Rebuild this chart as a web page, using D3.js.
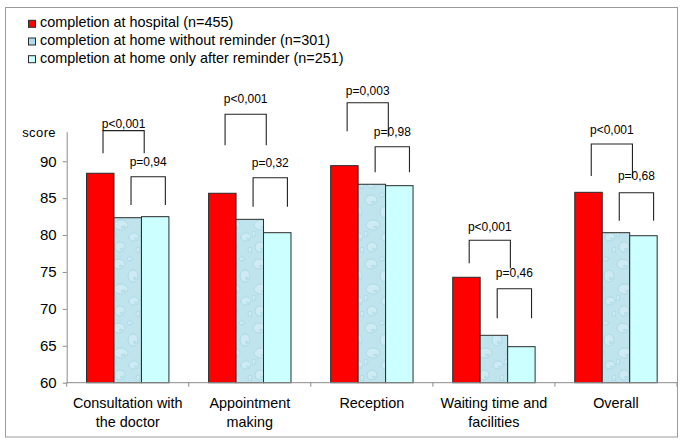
<!DOCTYPE html>
<html>
<head>
<meta charset="utf-8">
<script src="https://cdn.jsdelivr.net/npm/d3@7"></script>
<style>
  html, body { margin: 0; padding: 0; background: #fff; }
  svg { display: block; font-family: "Liberation Sans", Arial, sans-serif; }
</style>
</head>
<body>
<svg id="chart" width="685" height="445"></svg>
<script>
// ---- data ----
const categories = ["Consultation with\nthe doctor", "Appointment\nmaking", "Reception", "Waiting time and\nfacilities", "Overall"];
const seriesNames = ["completion at hospital (n=455)", "completion at home without reminder (n=301)", "completion at home only after reminder (n=251)"];
const hospital = [88.37, 85.66, 89.4, 74.28, 85.79];
const homeNoReminder = [82.35, 82.13, 86.88, 66.42, 80.32];
const homeAfterReminder = [82.49, 80.32, 86.69, 64.88, 79.91];
const yTicks = [60, 65, 70, 75, 80, 85, 90];
const yLabel = "score";
// p-value annotations: hospital vs home (1) and home without vs after reminder (2)
const pLabel1 = ["p<0,001", "p<0,001", "p=0,003", "p<0,001", "p<0,001"];
const pLabel2 = ["p=0,94", "p=0,32", "p=0,98", "p=0,46", "p=0,68"];
// bracket levels, in score units
const b1Top = [94.14, 96.37, 97.93, 79.29, 92.34];
const b1LegL = [91.08, 92.16, 94.06, 76.17, 88.0];
const b1LegR = [91.08, 92.16, 93.32, 75.5, 87.73];
const b1Text = [94.5, 97.85, 98.97, 80.59, 93.65];
const b2Top = [87.9, 87.77, 91.97, 72.73, 85.74];
const b2Leg = [84.07, 83.84, 88.5, 68.72, 81.95];
const b2Text = [89.4, 89.26, 93.42, 74.36, 87.46];

const svg = d3.select("#chart");
const font = '"Liberation Sans", Arial, sans-serif';

// outer frame
svg.append("rect").attr("x", 5.5).attr("y", 7.5).attr("width", 672).attr("height", 429.5)
  .attr("fill", "#fff").attr("stroke", "#9a9a9a").attr("stroke-width", 1);

// water-drop texture pattern for middle series
const defs = svg.append("defs");
const pat = defs.append("pattern").attr("id", "drops").attr("patternUnits", "userSpaceOnUse")
  .attr("width", 28).attr("height", 64);
pat.append("rect").attr("width", 28).attr("height", 64).attr("fill", "#c0e4ee");
const drops = [[7, 8, 6, 5], [21, 20, 5, 6], [9, 33, 7, 5], [22, 45, 5, 4], [8, 55, 5, 5], [18, 3, 3, 2], [2, 42, 2, 3], [26, 58, 2, 3]];
drops.forEach(d => {
  pat.append("ellipse").attr("cx", d[0]).attr("cy", d[1]).attr("rx", d[2]).attr("ry", d[3])
    .attr("fill", "#d2edf4").attr("stroke", "#9dd0df").attr("stroke-width", 0.8).attr("opacity", 0.8);
  pat.append("ellipse").attr("cx", d[0] + d[2] * 0.35).attr("cy", d[1] + d[3] * 0.4).attr("rx", d[2] * 0.4).attr("ry", d[3] * 0.3)
    .attr("fill", "#a9d7e4").attr("opacity", 0.6);
});

// scales
const plotLeft = 66.7, plotRight = 677, yBottom = 382.7, yTop = 131.7;
const x0 = d3.scaleBand().domain(categories).range([plotLeft, plotRight]).paddingInner(0.325).paddingOuter(0.1625);
const x1 = d3.scaleBand().domain([0, 1, 2]).range([0, x0.bandwidth()]).padding(0);
const y = d3.scaleLinear().domain([60, 94]).range([yBottom, yTop]);

const seriesVals = [hospital, homeNoReminder, homeAfterReminder];
const fills = ["#ff0000", "url(#drops)", "#ccffff"];

// bars
categories.forEach((c, i) => {
  seriesVals.forEach((vals, s) => {
    svg.append("rect")
      .attr("x", x0(c) + x1(s))
      .attr("y", y(vals[i]))
      .attr("width", x1.bandwidth())
      .attr("height", y(60) - y(vals[i]))
      .attr("fill", fills[s])
      .attr("stroke", "#2b2b2b").attr("stroke-width", 1);
  });
});

// y axis
const yAxis = d3.axisLeft(y).tickValues(yTicks).tickSize(4).tickPadding(6).tickSizeOuter(0);
const gy = svg.append("g").attr("transform", `translate(${plotLeft},0)`).call(yAxis);
gy.select(".domain").attr("stroke", "#8c8c8c");
gy.selectAll(".tick line").attr("stroke", "#8c8c8c");
gy.selectAll(".tick text").attr("font-family", font).attr("font-size", 15).attr("fill", "#000");

// x axis line with category boundary ticks
svg.append("line").attr("x1", plotLeft).attr("x2", plotRight).attr("y1", yBottom).attr("y2", yBottom)
  .attr("stroke", "#8c8c8c");
const bounds = categories.map(c => x0(c) - x0.step() * x0.paddingInner() / 2).concat([plotRight]);
bounds.forEach(b => {
  svg.append("line").attr("x1", b).attr("x2", b).attr("y1", yBottom).attr("y2", yBottom + 4).attr("stroke", "#8c8c8c");
});

// category labels
categories.forEach(c => {
  const t = svg.append("text").attr("text-anchor", "middle").attr("font-size", 14.4).attr("fill", "#000")
    .attr("font-family", font);
  c.split("\n").forEach((line, k) => {
    t.append("tspan").attr("x", x0(c) + x0.bandwidth() / 2).attr("y", 408.3 + k * 18.4).text(line);
  });
});

// y label
svg.append("text").attr("x", 56).attr("y", 137.3).attr("text-anchor", "end").attr("font-size", 13)
  .attr("letter-spacing", 0.4).attr("font-family", font).text(yLabel);

// brackets
const bw = x1.bandwidth();
const path = (xl, xr, top, legL, legR) => `M${xl},${y(legL)}V${y(top)}H${xr}V${y(legR)}`;
categories.forEach((c, i) => {
  const gx = x0(c);
  const l1 = gx + 0.6 * bw, r1 = gx + 2.1 * bw;
  const l2 = gx + 1.62 * bw, r2 = gx + 2.87 * bw;
  svg.append("path").attr("d", path(l1, r1, b1Top[i], b1LegL[i], b1LegR[i]))
    .attr("fill", "none").attr("stroke", "#222").attr("stroke-width", 1.1);
  svg.append("path").attr("d", path(l2, r2, b2Top[i], b2Leg[i], b2Leg[i]))
    .attr("fill", "none").attr("stroke", "#222").attr("stroke-width", 1.1);
  svg.append("text").attr("x", (l1 + r1) / 2).attr("y", y(b1Text[i])).attr("text-anchor", "middle")
    .attr("font-size", 12).attr("font-family", font).text(pLabel1[i]);
  svg.append("text").attr("x", (l2 + r2) / 2).attr("y", y(b2Text[i])).attr("text-anchor", "middle")
    .attr("font-size", 12).attr("font-family", font).text(pLabel2[i]);
});

// legend
const legend = svg.append("g");
seriesNames.forEach((n, s) => {
  const by = 27.3 + s * 17.7;
  legend.append("rect").attr("x", 28.5).attr("y", by - 7).attr("width", 7).attr("height", 7)
    .attr("fill", fills[s] === "url(#drops)" ? "#b0dbe8" : fills[s]).attr("stroke", "#2b2b2b").attr("stroke-width", 1);
  legend.append("text").attr("x", 40).attr("y", by).attr("font-size", 14.4).attr("font-family", font).text(n);
});
</script>
</body>
</html>
